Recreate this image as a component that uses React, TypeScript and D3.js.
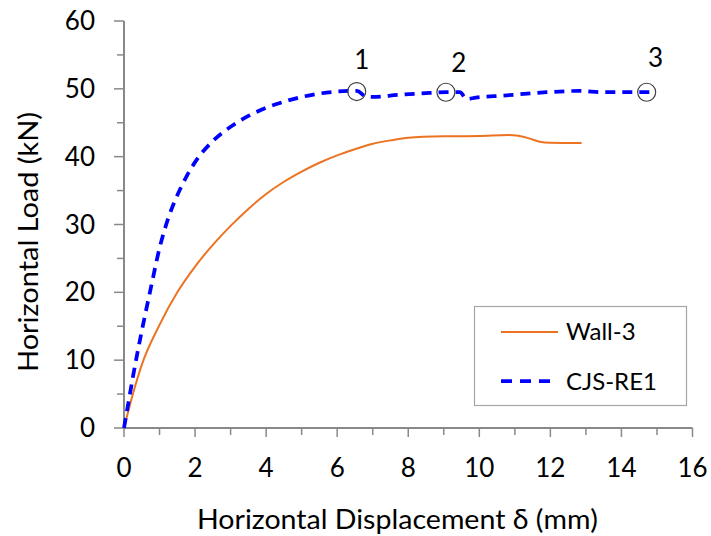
import React from "react";
import * as d3 from "d3";

const wallX = [0, 0.25, 0.5, 1, 1.5, 2, 2.5, 3, 3.5, 4, 4.5, 5, 5.5, 6, 6.5, 7, 7.5, 8, 9, 10, 10.8, 11.1, 11.4, 11.7, 12, 12.88];
const wallY = [0, 5.0, 9.3, 15.2, 20.0, 23.8, 27.0, 29.8, 32.3, 34.5, 36.3, 37.8, 39.1, 40.2, 41.1, 41.9, 42.4, 42.8, 43.0, 43.05, 43.2, 43.1, 42.7, 42.2, 42.05, 42.0];

const cjsX = [0, 0.1, 0.25, 0.5, 0.75, 1, 1.25, 1.5, 1.75, 2, 2.5, 3, 3.5, 4, 4.5, 5, 5.5, 6, 6.55, 6.8, 7.0, 7.7, 8.6, 9.06, 9.45, 9.65, 9.9, 10.66, 11.9, 12.83, 13.47, 14.85];
const cjsY = [0, 3.0, 7.5, 14.3, 20.5, 26.5, 31.0, 34.3, 37.0, 39.2, 42.3, 44.4, 46.0, 47.2, 48.1, 48.8, 49.3, 49.6, 49.7, 48.9, 48.8, 49.1, 49.4, 49.5, 49.5, 48.5, 48.7, 49.0, 49.5, 49.7, 49.5, 49.5];

const markerLabels = ["1", "2", "3"];
const markerX = [6.55, 9.06, 14.71];
const markerY = [49.6, 49.5, 49.5];

const xTicks = [0, 2, 4, 6, 8, 10, 12, 14, 16];
const yTicks = [0, 10, 20, 30, 40, 50, 60];
const seriesNames = ["Wall-3", "CJS-RE1"];

const W = 711;
const H = 536;
const FONT = "Lato, 'Open Sans', sans-serif";
const AXIS = "#898989";

export default function App() {
  const x = d3.scaleLinear().domain([0, 16]).range([124, 692.5]);
  const y = d3.scaleLinear().domain([0, 60]).range([428, 21]);
  const line = d3
    .line<[number, number]>()
    .x((d) => x(d[0]))
    .y((d) => y(d[1]))
    .curve(d3.curveMonotoneX);
  const wall: [number, number][] = wallX.map((v, i) => [v, wallY[i]]);
  const cjs: [number, number][] = cjsX.map((v, i) => [v, cjsY[i]]);
  const xMinor = d3.range(0, 17, 1);
  const yMinor = d3.range(0, 61, 5);

  return (
    <svg
      width={W}
      height={H}
      style={{ position: "absolute", left: 0, top: 0, background: "#fff" }}
      fontFamily={FONT}
    >
      <rect x={0} y={0} width={W} height={H} fill="#fff" />
      <line x1={x(0)} x2={x(0)} y1={y(60)} y2={y(0)} stroke={AXIS} strokeWidth={2} />
      <line x1={x(0)} x2={x(16)} y1={y(0)} y2={y(0)} stroke={AXIS} strokeWidth={2} />
      {yMinor.map((t) => (
        <line
          key={"yt" + t}
          x1={t % 10 === 0 ? 114 : 117}
          x2={x(0)}
          y1={y(t)}
          y2={y(t)}
          stroke={AXIS}
          strokeWidth={1.5}
        />
      ))}
      {xMinor.map((t) => (
        <line
          key={"xt" + t}
          x1={x(t)}
          x2={x(t)}
          y1={y(0)}
          y2={y(0) + (t % 2 === 0 ? 9 : 7)}
          stroke={AXIS}
          strokeWidth={1.5}
        />
      ))}
      {yTicks.map((t) => (
        <text key={"yl" + t} x={95} y={y(t) + 9} textAnchor="end" fontSize={26} fill="#000">
          {t}
        </text>
      ))}
      {xTicks.map((t) => (
        <text key={"xl" + t} x={x(t)} y={477} textAnchor="middle" fontSize={26} fill="#000">
          {t}
        </text>
      ))}
      <text
        x={397.5}
        y={529}
        textAnchor="middle"
        fontSize={27}
        fill="#000"
        textLength={401}
        lengthAdjust="spacingAndGlyphs"
      >
        Horizontal Displacement δ (mm)
      </text>
      <text
        transform="translate(38,242) rotate(-90)"
        textAnchor="middle"
        fontSize={27}
        fill="#000"
        textLength={260}
        lengthAdjust="spacingAndGlyphs"
      >
        Horizontal Load (kN)
      </text>

      <path d={line(wall) || ""} fill="none" stroke="#EC7322" strokeWidth={2} />
      <path
        d={line(cjs) || ""}
        fill="none"
        stroke="#0000FF"
        strokeWidth={3.75}
        strokeDasharray="10,7"
      />

      {markerX.map((mx, i) => (
        <g key={"m" + i}>
          <circle cx={x(mx)} cy={y(markerY[i])} r={9} fill="none" stroke="#404040" strokeWidth={1.2} />
          <text x={x(mx) + (i === 2 ? 9 : i === 1 ? 13 : 5)} y={i === 1 ? 72 : i === 0 ? 69 : 67} textAnchor="middle" fontSize={26} fill="#000">
            {markerLabels[i]}
          </text>
        </g>
      ))}

      <rect x={474.5} y={306.5} width={212} height={99} fill="#fff" stroke="#a6a6a6" strokeWidth={1.2} />
      <line x1={501} x2={558} y1={332} y2={332} stroke="#EC7322" strokeWidth={2} />
      <text x={566} y={340} fontSize={24} fill="#000">
        {seriesNames[0]}
      </text>
      <line x1={501} x2={555} y1={381} y2={381} stroke="#0000FF" strokeWidth={3.75} strokeDasharray="11,8" />
      <text x={566} y={390} fontSize={24} fill="#000">
        {seriesNames[1]}
      </text>
    </svg>
  );
}
